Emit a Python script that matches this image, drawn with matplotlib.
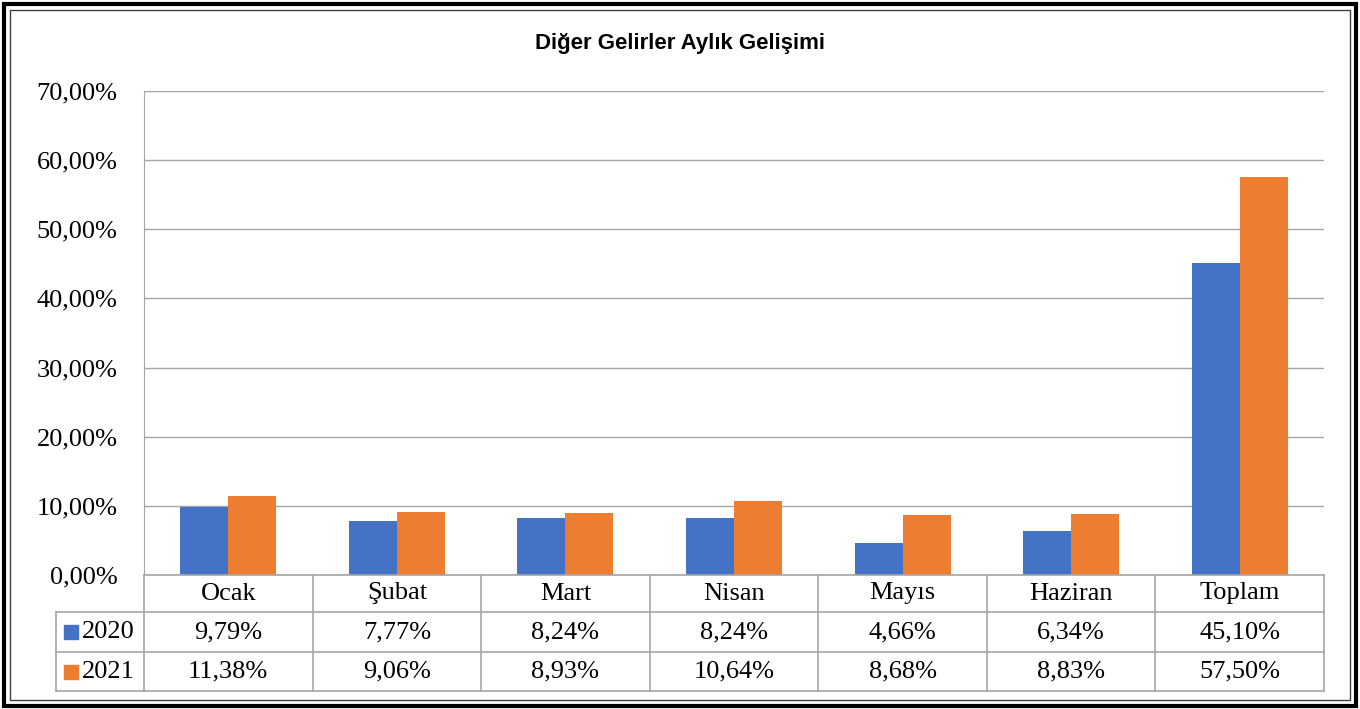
import numpy as np
import matplotlib.pyplot as plt
from matplotlib.patches import Rectangle
from matplotlib.lines import Line2D

# === Data ===
categories = ['Ocak', 'Şubat', 'Mart', 'Nisan', 'Mayıs', 'Haziran', 'Toplam']
series_names = ['2020', '2021']
values_2020 = [9.79, 7.77, 8.24, 8.24, 4.66, 6.34, 45.10]
values_2021 = [11.38, 9.06, 8.93, 10.64, 8.68, 8.83, 57.50]
y_ticks = [0, 10, 20, 30, 40, 50, 60, 70]

colors = ['#4472C4', '#ED7D31']
grid_c = '#A6A6A6'
W, H = 1360, 709
serif = 'Liberation Serif'
fs = 19


def fx(px):
    return px / W


def fy(py):
    return 1 - py / H


def pct(v):
    return f'{v:.2f}%'.replace('.', ',')


fig = plt.figure(figsize=(13.6, 7.09), dpi=100)

# plot area
x0, x1, ytop, ybot = 144, 1324, 91, 575
ax = fig.add_axes([fx(x0), fy(ybot), fx(x1 - x0), fy(ytop) - fy(ybot)])
n = len(categories)
x = np.arange(n)
bw = 0.285
ax.bar(x - bw / 2, values_2020, bw, color=colors[0], zorder=3)
ax.bar(x + bw / 2, values_2021, bw, color=colors[1], zorder=3)
ax.set_xlim(-0.5, n - 0.5)
ax.set_ylim(0, 70)
ax.set_yticks(y_ticks)
ax.set_yticklabels([pct(t) for t in y_ticks], fontfamily=serif, fontsize=fs)
ax.tick_params(axis='y', length=0, pad=19)
ax.set_xticks([])
ax.grid(axis='y', color=grid_c, linewidth=1, zorder=0)
for s in ['top', 'right', 'bottom']:
    ax.spines[s].set_visible(False)
ax.spines['left'].set_color(grid_c)

# data table below the plot
cw = (x1 - x0) / n
r0, r1, r2, r3 = 575, 612, 652, 691
lx = 56
lines = [
    ([x0, x1], [r0, r0]), ([lx, x1], [r1, r1]), ([lx, x1], [r2, r2]),
    ([lx, x1], [r3, r3]), ([lx, lx], [r1, r3]),
]
for k in range(n + 1):
    lines.append(([x0 + k * cw] * 2, [r0, r3]))
for xs, ys in lines:
    fig.add_artist(Line2D([fx(v) for v in xs], [fy(v) for v in ys],
                          color=grid_c, linewidth=1.2))

for i, c in enumerate(categories):
    cx = x0 + (i + 0.5) * cw
    fig.text(fx(cx), fy((r0 + r1) / 2), c, ha='center', va='center',
             fontfamily=serif, fontsize=fs)
    fig.text(fx(cx), fy((r1 + r2) / 2), pct(values_2020[i]), ha='center',
             va='center', fontfamily=serif, fontsize=fs)
    fig.text(fx(cx), fy((r2 + r3) / 2), pct(values_2021[i]), ha='center',
             va='center', fontfamily=serif, fontsize=fs)

for j, (name, ya, yb) in enumerate([(series_names[0], r1, r2), (series_names[1], r2, r3)]):
    ym = (ya + yb) / 2
    fig.add_artist(Rectangle((fx(64), fy(ym + 7)), fx(14), fy(ym - 7) - fy(ym + 7),
                             color=colors[j]))
    fig.text(fx(82), fy(ym), name, ha='left', va='center',
             fontfamily=serif, fontsize=fs)

# title
fig.text(0.5, fy(44), 'Diğer Gelirler Aylık Gelişimi', ha='center', va='center',
         fontfamily='Liberation Sans', fontweight='bold', fontsize=16)

# double frame
fig.add_artist(Rectangle((fx(4), fy(706)), fx(W - 8), fy(4) - fy(706), fill=False,
                         edgecolor='black', linewidth=3))
fig.add_artist(Rectangle((fx(10), fy(700)), fx(W - 20), fy(10) - fy(700), fill=False,
                         edgecolor='#404040', linewidth=1))

fig.savefig('out.png', dpi=100)
